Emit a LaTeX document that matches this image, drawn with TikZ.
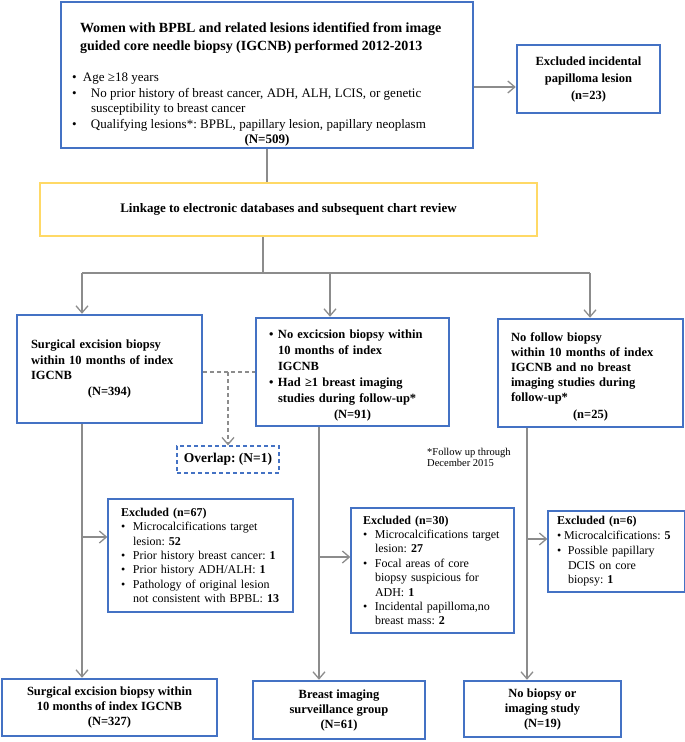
\documentclass[tikz,border=0pt]{standalone}
\usepackage{fontspec}
\setmainfont{Liberation Serif}
\usetikzlibrary{arrows.meta}
\frenchspacing

\definecolor{boxblue}{HTML}{4472C4}
\definecolor{linkyellow}{HTML}{FFD966}
\definecolor{lineGray}{HTML}{8C8C8C}

\newcommand{\bitem}[2][12pt]{\par\hangindent=#1\hangafter=1\noindent\makebox[#1][l]{\textbullet}#2}

\begin{document}
\begin{tikzpicture}[x=1pt,y=-1pt,
	>={Straight Barb[length=7pt,width=12pt]},
	mainbox/.style={draw=boxblue,line width=2.5pt,rectangle,inner sep=0pt},
	thinbox/.style={draw=boxblue,line width=1.3pt,rectangle,inner sep=0pt},
	linkbox/.style={draw=linkyellow,line width=2.5pt,rectangle,inner sep=0pt},
	overlapbox/.style={draw=boxblue,line width=1.2pt,dash pattern=on 4pt off 3pt,rectangle,inner sep=0pt},
	flow/.style={draw=lineGray,line width=1.3pt},
	dflow/.style={flow,dash pattern=on 4pt off 3pt}]

	\useasboundingbox (0,0) rectangle (685,742);

	\node[thinbox,minimum width=412,minimum height=146,text width=390,align=left] (top) at (267,75) {%
		{\fontsize{14}{18}\selectfont\bfseries\leftskip=8pt \rule{0pt}{29pt}Women with BPBL and related lesions identified from image\\guided core needle biopsy (IGCNB) performed 2012-2013\par}
		\vspace{15pt}
		{\fontsize{13}{15.7}\selectfont
		\bitem[11pt]{Age ≥18 years}
		\bitem[19pt]{No prior history of breast cancer, ADH, ALH, LCIS, or genetic\newline susceptibility to breast cancer}
		\bitem[19pt]{Qualifying lesions*: BPBL, papillary lesion, papillary neoplasm}\par}
		{\centering\bfseries\fontsize{13}{15}\selectfont (N=509)\par}};
	\node[mainbox,minimum width=143,minimum height=68,align=center,font=\bfseries\fontsize{12.5}{17}\selectfont] (inc) at (588.5,79) {Excluded incidental\\papilloma lesion\\(n=23)};
	\node[linkbox,minimum width=497,minimum height=53,font=\bfseries\fontsize{13}{15}\selectfont] (link) at (288.5,209.5) {Linkage to electronic databases and subsequent chart review};

	\node[mainbox,minimum width=185,minimum height=108,text width=157,align=left,font=\bfseries\fontsize{12.5}{15.5}\selectfont] (s1) at (109.5,369) {Surgical excision biopsy\\within 10 months of index\\IGCNB\par{\centering (N=394)\par}};
	\node[mainbox,minimum width=193,minimum height=108,text width=167,align=left,font=\bfseries\fontsize{12.5}{16}\selectfont] (s2) at (352.5,372) {%
		\bitem[9pt]{No excicsion biopsy within\newline 10 months of index\newline IGCNB}
		\bitem[9pt]{Had ≥1 breast imaging\newline studies during follow-up*}\par
		{\centering (N=91)\par}};
	\node[mainbox,minimum width=185,minimum height=108,text width=159,align=left,font=\bfseries\fontsize{12.5}{15}\selectfont] (s3) at (590.5,373) {\rule{0pt}{17pt}No follow biopsy\\within 10 months of index\\IGCNB and no breast\\imaging studies during\\follow-up*\par\vspace{2pt}{\centering (n=25)\par}};

	\node[overlapbox,minimum width=102,minimum height=27,font=\bfseries\fontsize{13.5}{15}\selectfont] (ovl) at (228,459.5) {Overlap: (N=1)};
	\node[anchor=north west,inner sep=0pt,align=left,font=\fontsize{10.5}{11.5}\selectfont] (foot) at (427,448) {*Follow up through\\December 2015};

	\node[thinbox,minimum width=185,minimum height=113,text width=159,align=left,font=\fontsize{12}{14.3}\selectfont] (ex1) at (200.5,555.5) {%
		{\bfseries Excluded (n=67)}
		\bitem{Microcalcifications target\newline lesion: \textbf{52}}
		\bitem{Prior history breast cancer: \textbf{1}}
		\bitem{Prior history ADH/ALH: \textbf{1}}
		\bitem{Pathology of original lesion\newline not consistent with BPBL: \textbf{13}}\par};
	\node[thinbox,minimum width=163,minimum height=125,text width=139,align=left,font=\fontsize{12}{14.4}\selectfont] (ex2) at (432.5,570.5) {%
		{\bfseries Excluded (n=30)}
		\bitem{Microcalcifications target\newline lesion: \textbf{27}}
		\bitem{Focal areas of core\newline biopsy suspicious for\newline ADH: \textbf{1}}
		\bitem{Incidental papilloma,no\newline breast mass: \textbf{2}}\par};
	\node[thinbox,minimum width=137,minimum height=81,text width=119,align=left,font=\fontsize{12}{14.7}\selectfont] (ex3) at (616.5,551.5) {%
		{\bfseries Excluded (n=6)}
		\bitem[7pt]{Microcalcifications: \textbf{5}}
		\bitem[11pt]{Possible papillary\newline DCIS on core\newline biopsy: \textbf{1}}\par};

	\node[mainbox,minimum width=215,minimum height=57,align=center,font=\bfseries\fontsize{12.5}{15}\selectfont] (b1) at (109.5,707.5) {Surgical excision biopsy within\\10 months of index IGCNB\\(N=327)};
	\node[mainbox,minimum width=172,minimum height=58,align=center,font=\bfseries\fontsize{12.5}{15}\selectfont] (b2) at (339,710) {Breast imaging\\surveillance group\\(N=61)};
	\node[mainbox,minimum width=157,minimum height=56,align=center,font=\bfseries\fontsize{12.5}{15}\selectfont] (b3) at (542.5,709) {No biopsy or\\imaging study\\(N=19)};

	\coordinate (busL) at (82,273);
	\coordinate (busM) at (330,273);
	\coordinate (busR) at (590,273);
	\coordinate (busT) at (263,273);
	\coordinate (dv) at (228,372);
	\coordinate (c1) at (82,537);
	\coordinate (c2) at (319,557);
	\coordinate (c3) at (527,539);

	\draw[flow] (top.south) -- (top.south |- link.north);
	\draw[flow,->] ([yshift=-12pt]top.east) -- ([yshift=-12pt]top.east -| inc.west);
	\draw[flow] (busT |- link.south) -- (busT);
	\draw[flow] (busL) -- (busR);
	\draw[flow,->] (busL) -- (busL |- s1.north);
	\draw[flow,->] (busM) -- (busM |- s2.north);
	\draw[flow,->] (busR) -- (busR |- s3.north);

	\draw[dflow] (s1.east |- dv) -- (s2.west |- dv);
	\draw[dflow,->] (dv) -- (ovl.north);

	\draw[flow,->] (c1 |- s1.south) -- (c1 |- b1.north);
	\draw[flow,->] (c1) -- (c1 -| ex1.west);
	\draw[flow,->] (c2 |- s2.south) -- (c2 |- b2.north);
	\draw[flow,->] (c2) -- (c2 -| ex2.west);
	\draw[flow,->] (c3 |- s3.south) -- (c3 |- b3.north);
	\draw[flow,->] (c3) -- (c3 -| ex3.west);
\end{tikzpicture}
\end{document}
